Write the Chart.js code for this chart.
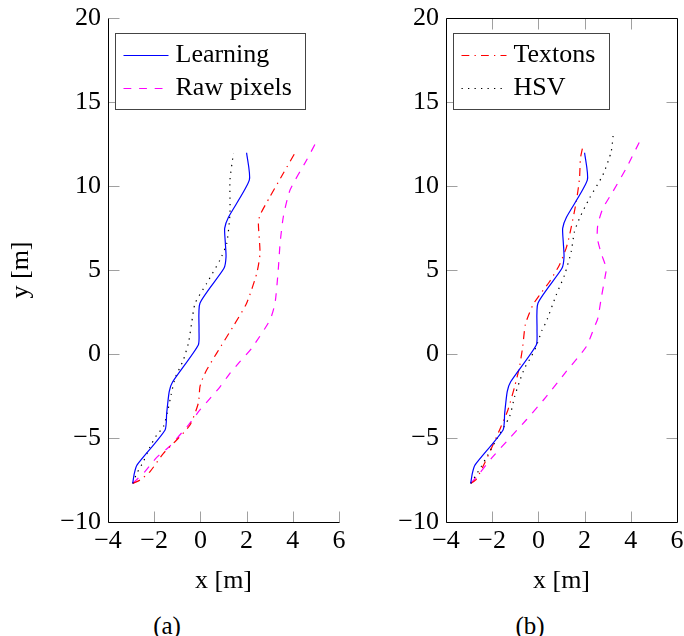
<!DOCTYPE html>
<html>
<head>
<meta charset="utf-8">
<script src="https://cdn.jsdelivr.net/npm/chart.js@4.4.0/dist/chart.umd.min.js"></script>
<style>
  body { margin: 0; background: #fff; width: 684px; height: 636px; overflow: hidden; position: relative; }
  .plot { position: absolute; top: 0; }
  #chartA { left: 0; }
  #chartB { left: 338px; }
  .caption { position: absolute; top: 613px; font: 25px/25px "Liberation Serif", serif; transform: translateX(-50%); }
</style>
</head>
<body>
<canvas class="plot" id="chartA" width="346" height="600"></canvas>
<canvas class="plot" id="chartB" width="346" height="600"></canvas>
<div class="caption" style="left:167px">(a)</div>
<div class="caption" style="left:530px">(b)</div>
<script>
// axis ticks
const X_TICKS = [-4, -2, 0, 2, 4, 6];
const Y_TICKS = [-10, -5, 0, 5, 10, 15, 20];

// trajectory shared by both panels
const learningX = [-2.93, -2.86, -2.74, -1.53, -1.46, -1.35, -1.20, -0.09, -0.06, -0.02, 1.02, 1.11, 1.08, 1.05, 1.21, 2.12, 2.00];
const learningY = [-7.70, -7.10, -6.60, -4.52, -3.53, -2.24, -1.65, 0.54, 1.43, 3.02, 5.10, 5.79, 6.60, 7.48, 8.13, 10.36, 11.98];

// panel (a)
const rawAX = [-2.93, -2.40, -1.89, -1.35, -0.52, -0.02, 0.42, 0.85, 1.28, 1.71, 2.22, 3.01, 3.23, 3.37, 3.45, 3.59, 3.88, 4.60, 5.10];
const rawAY = [-7.70, -7.00, -6.15, -5.52, -4.23, -3.33, -2.64, -1.95, -1.15, -0.46, 0.34, 2.02, 3.02, 5.00, 6.59, 8.17, 9.76, 11.55, 12.84];
const textonsAX = [-2.93, -2.61, -2.18, -1.60, -1.03, -0.45, -0.09, -0.02, 0.10, 0.27, 0.70, 1.40, 2.00, 2.44, 2.58, 2.51, 2.58, 3.01, 3.59, 4.10];
const textonsAY = [-7.70, -7.50, -7.00, -5.91, -5.12, -4.23, -2.93, -1.95, -1.45, -0.95, 0.04, 1.60, 3.02, 4.80, 5.99, 7.78, 8.27, 9.36, 10.76, 11.98];
const hsvAX = [-2.93, -2.75, -2.47, -2.18, -1.89, -1.60, -1.39, -1.27, -1.10, -0.74, -0.52, -0.38, -0.23, 0.27, 0.85, 1.14, 1.28, 1.28, 1.43];
const hsvAY = [-7.70, -7.10, -6.41, -5.52, -4.82, -4.33, -3.23, -2.44, -1.45, -0.36, 0.64, 1.83, 3.02, 4.20, 5.60, 6.59, 8.38, 10.36, 11.95];

// panel (b)
const rawBX = [-2.93, -2.55, -1.97, -1.25, -0.53, 0.34, 1.20, 2.07, 2.43, 2.57, 2.72, 2.90, 2.94, 2.72, 2.55, 2.57, 2.79, 3.22, 3.80, 4.38];
const rawBY = [-7.70, -7.10, -6.11, -5.02, -3.93, -2.54, -1.05, 0.43, 1.63, 2.10, 3.32, 4.70, 5.10, 5.99, 6.89, 7.68, 8.67, 9.66, 11.05, 12.64];
const textonsBX = [-2.93, -2.69, -2.33, -1.97, -1.68, -1.32, -1.03, -0.82, -0.68, -0.56, -0.24, 0.05, 0.48, 0.91, 1.20, 1.35, 1.64, 1.78, 1.82, 1.92];
const textonsBY = [-7.70, -7.46, -6.50, -5.42, -4.52, -3.33, -1.95, -0.77, 0.43, 1.78, 2.92, 3.51, 4.30, 5.30, 6.29, 7.08, 9.07, 10.46, 11.65, 12.34];
const hsvBX = [-2.93, -2.70, -2.48, -2.19, -1.83, -1.25, -1.03, -0.82, -0.60, -0.31, -0.10, 0.16, 0.34, 0.77, 1.13, 1.42, 1.56, 1.78, 2.21, 2.79, 3.15, 3.25];
const hsvBY = [-7.70, -7.20, -6.71, -6.01, -5.12, -3.73, -2.54, -1.65, -0.85, -0.16, 0.43, 1.43, 1.92, 3.51, 4.70, 6.09, 7.28, 8.08, 9.27, 10.65, 12.04, 13.23];

const FONT = '"Liberation Serif", serif';
const TICK_LEN = 11;

const STYLES = {
  "Learning": { color: "#0000ff", dash: [] },
  "Raw pixels": { color: "#ff00ff", dash: [7.8, 7.8] },
  "Textons": { color: "#ff0000", dash: [7.8, 5.2, 1.3, 5.2] },
  "HSV": { color: "#000000", dash: [1.3, 5.2] },
};

function points(xs, ys) {
  return xs.map((x, i) => ({ x, y: ys[i] }));
}

function minus(v) {
  return v < 0 ? "\u2212" + Math.abs(v) : String(v);
}

// keep the plot box fixed, whatever the labels ask for
function noPadding(s) {
  s.paddingTop = 0;
  s.paddingBottom = 0;
  s.paddingLeft = 0;
  s.paddingRight = 0;
}

// frame + inward ticks, pgfplots style
const framePlugin = {
  id: "frame",
  afterDatasetsDraw(chart, args, opts) {
    const { ctx, chartArea: a, scales } = chart;
    const L = Math.round(a.left) + 0.5, R = Math.round(a.right) + 0.5;
    const T = Math.round(a.top) + 0.5, B = Math.round(a.bottom) + 0.5;
    ctx.save();
    ctx.lineWidth = 1;
    ctx.strokeStyle = "#a0a0a0";
    ctx.beginPath();
    scales.x.ticks.forEach((t) => {
      const px = Math.round(scales.x.getPixelForValue(t.value)) + 0.5;
      ctx.moveTo(px, B); ctx.lineTo(px, B - TICK_LEN);
      if (opts.box) { ctx.moveTo(px, T); ctx.lineTo(px, T + TICK_LEN); }
    });
    scales.y.ticks.forEach((t) => {
      const py = Math.round(scales.y.getPixelForValue(t.value)) + 0.5;
      ctx.moveTo(L, py); ctx.lineTo(L + TICK_LEN, py);
      if (opts.box) { ctx.moveTo(R, py); ctx.lineTo(R - TICK_LEN, py); }
    });
    ctx.stroke();
    ctx.strokeStyle = "#000";
    ctx.beginPath();
    if (opts.box) {
      ctx.rect(L, T, R - L, B - T);
    } else {
      ctx.moveTo(L, T); ctx.lineTo(L, B); ctx.lineTo(R, B);
    }
    ctx.stroke();
    ctx.restore();
  },
};

// boxed legend in the upper left corner of the plot
const boxLegendPlugin = {
  id: "boxLegend",
  afterDraw(chart, args, opts) {
    const { ctx, chartArea: a } = chart;
    const items = chart.data.datasets.filter((d) => opts.names.includes(d.label));
    items.sort((p, q) => opts.names.indexOf(p.label) - opts.names.indexOf(q.label));
    ctx.save();
    ctx.font = "26px " + FONT;
    const textW = Math.max(...items.map((d) => ctx.measureText(d.label).width));
    const left = Math.round(a.left) + 7.5, top = Math.round(a.top) + 15.5;
    const w = Math.round(8 + 45 + 7 + textW + 14), h = 76;
    ctx.fillStyle = "#fff";
    ctx.fillRect(left, top, w, h);
    ctx.strokeStyle = "#444";
    ctx.lineWidth = 1;
    ctx.strokeRect(left, top, w, h);
    items.forEach((d, i) => {
      const cy = top + 22 + i * 33;
      ctx.strokeStyle = d.borderColor;
      ctx.lineWidth = d.borderWidth;
      ctx.setLineDash(d.borderDash);
      ctx.beginPath();
      ctx.moveTo(left + 8, cy);
      ctx.lineTo(left + 53, cy);
      ctx.stroke();
      ctx.setLineDash([]);
      ctx.fillStyle = "#000";
      ctx.textBaseline = "middle";
      ctx.fillText(d.label, left + 60, cy);
    });
    ctx.restore();
  },
};

function dataset(name, xs, ys) {
  return {
    label: name,
    data: points(xs, ys),
    showLine: true,
    borderColor: STYLES[name].color,
    borderDash: STYLES[name].dash,
    borderWidth: 1.2,
    pointRadius: 0,
    tension: 0.2,
    fill: false,
  };
}

function makePlot(canvasId, datasets, legendNames, yTitle, box) {
  new Chart(document.getElementById(canvasId), {
    type: "scatter",
    data: { datasets },
    options: {
      responsive: false,
      animation: false,
      events: [],
      layout: { padding: { top: 18, right: 7, left: 0, bottom: 0 } },
      plugins: {
        legend: { display: false },
        tooltip: { enabled: false },
        frame: { box },
        boxLegend: { names: legendNames },
      },
      scales: {
        x: {
          type: "linear",
          min: X_TICKS[0],
          max: X_TICKS[X_TICKS.length - 1],
          afterBuildTicks: (s) => { s.ticks = X_TICKS.map((v) => ({ value: v })); },
          afterFit: (s) => { s.height = 78; noPadding(s); },
          grid: { display: false, drawTicks: false },
          border: { display: false },
          ticks: {
            padding: 4,
            color: "#000",
            font: { family: FONT, size: 26 },
            callback: minus,
            autoSkip: false,
            maxRotation: 0,
          },
          title: {
            display: true,
            text: "x [m]",
            color: "#000",
            font: { family: FONT, size: 26 },
            padding: { top: 0, bottom: 3 },
          },
        },
        y: {
          type: "linear",
          min: Y_TICKS[0],
          max: Y_TICKS[Y_TICKS.length - 1],
          afterBuildTicks: (s) => { s.ticks = Y_TICKS.map((v) => ({ value: v })); },
          afterFit: (s) => { s.width = 108; noPadding(s); },
          grid: { display: false, drawTicks: false },
          border: { display: false },
          ticks: {
            padding: 7,
            color: "#000",
            font: { family: FONT, size: 26 },
            callback: minus,
            autoSkip: false,
          },
          title: {
            display: yTitle,
            text: "y [m]",
            color: "#000",
            font: { family: FONT, size: 26 },
            padding: { top: 6, bottom: 0 },
          },
        },
      },
    },
    plugins: [framePlugin, boxLegendPlugin],
  });
}

makePlot("chartA", [
  dataset("Learning", learningX, learningY),
  dataset("HSV", hsvAX, hsvAY),
  dataset("Textons", textonsAX, textonsAY),
  dataset("Raw pixels", rawAX, rawAY),
], ["Learning", "Raw pixels"], true, false);

makePlot("chartB", [
  dataset("Learning", learningX, learningY),
  dataset("HSV", hsvBX, hsvBY),
  dataset("Textons", textonsBX, textonsBY),
  dataset("Raw pixels", rawBX, rawBY),
], ["Textons", "HSV"], false, true);
</script>
</body>
</html>
